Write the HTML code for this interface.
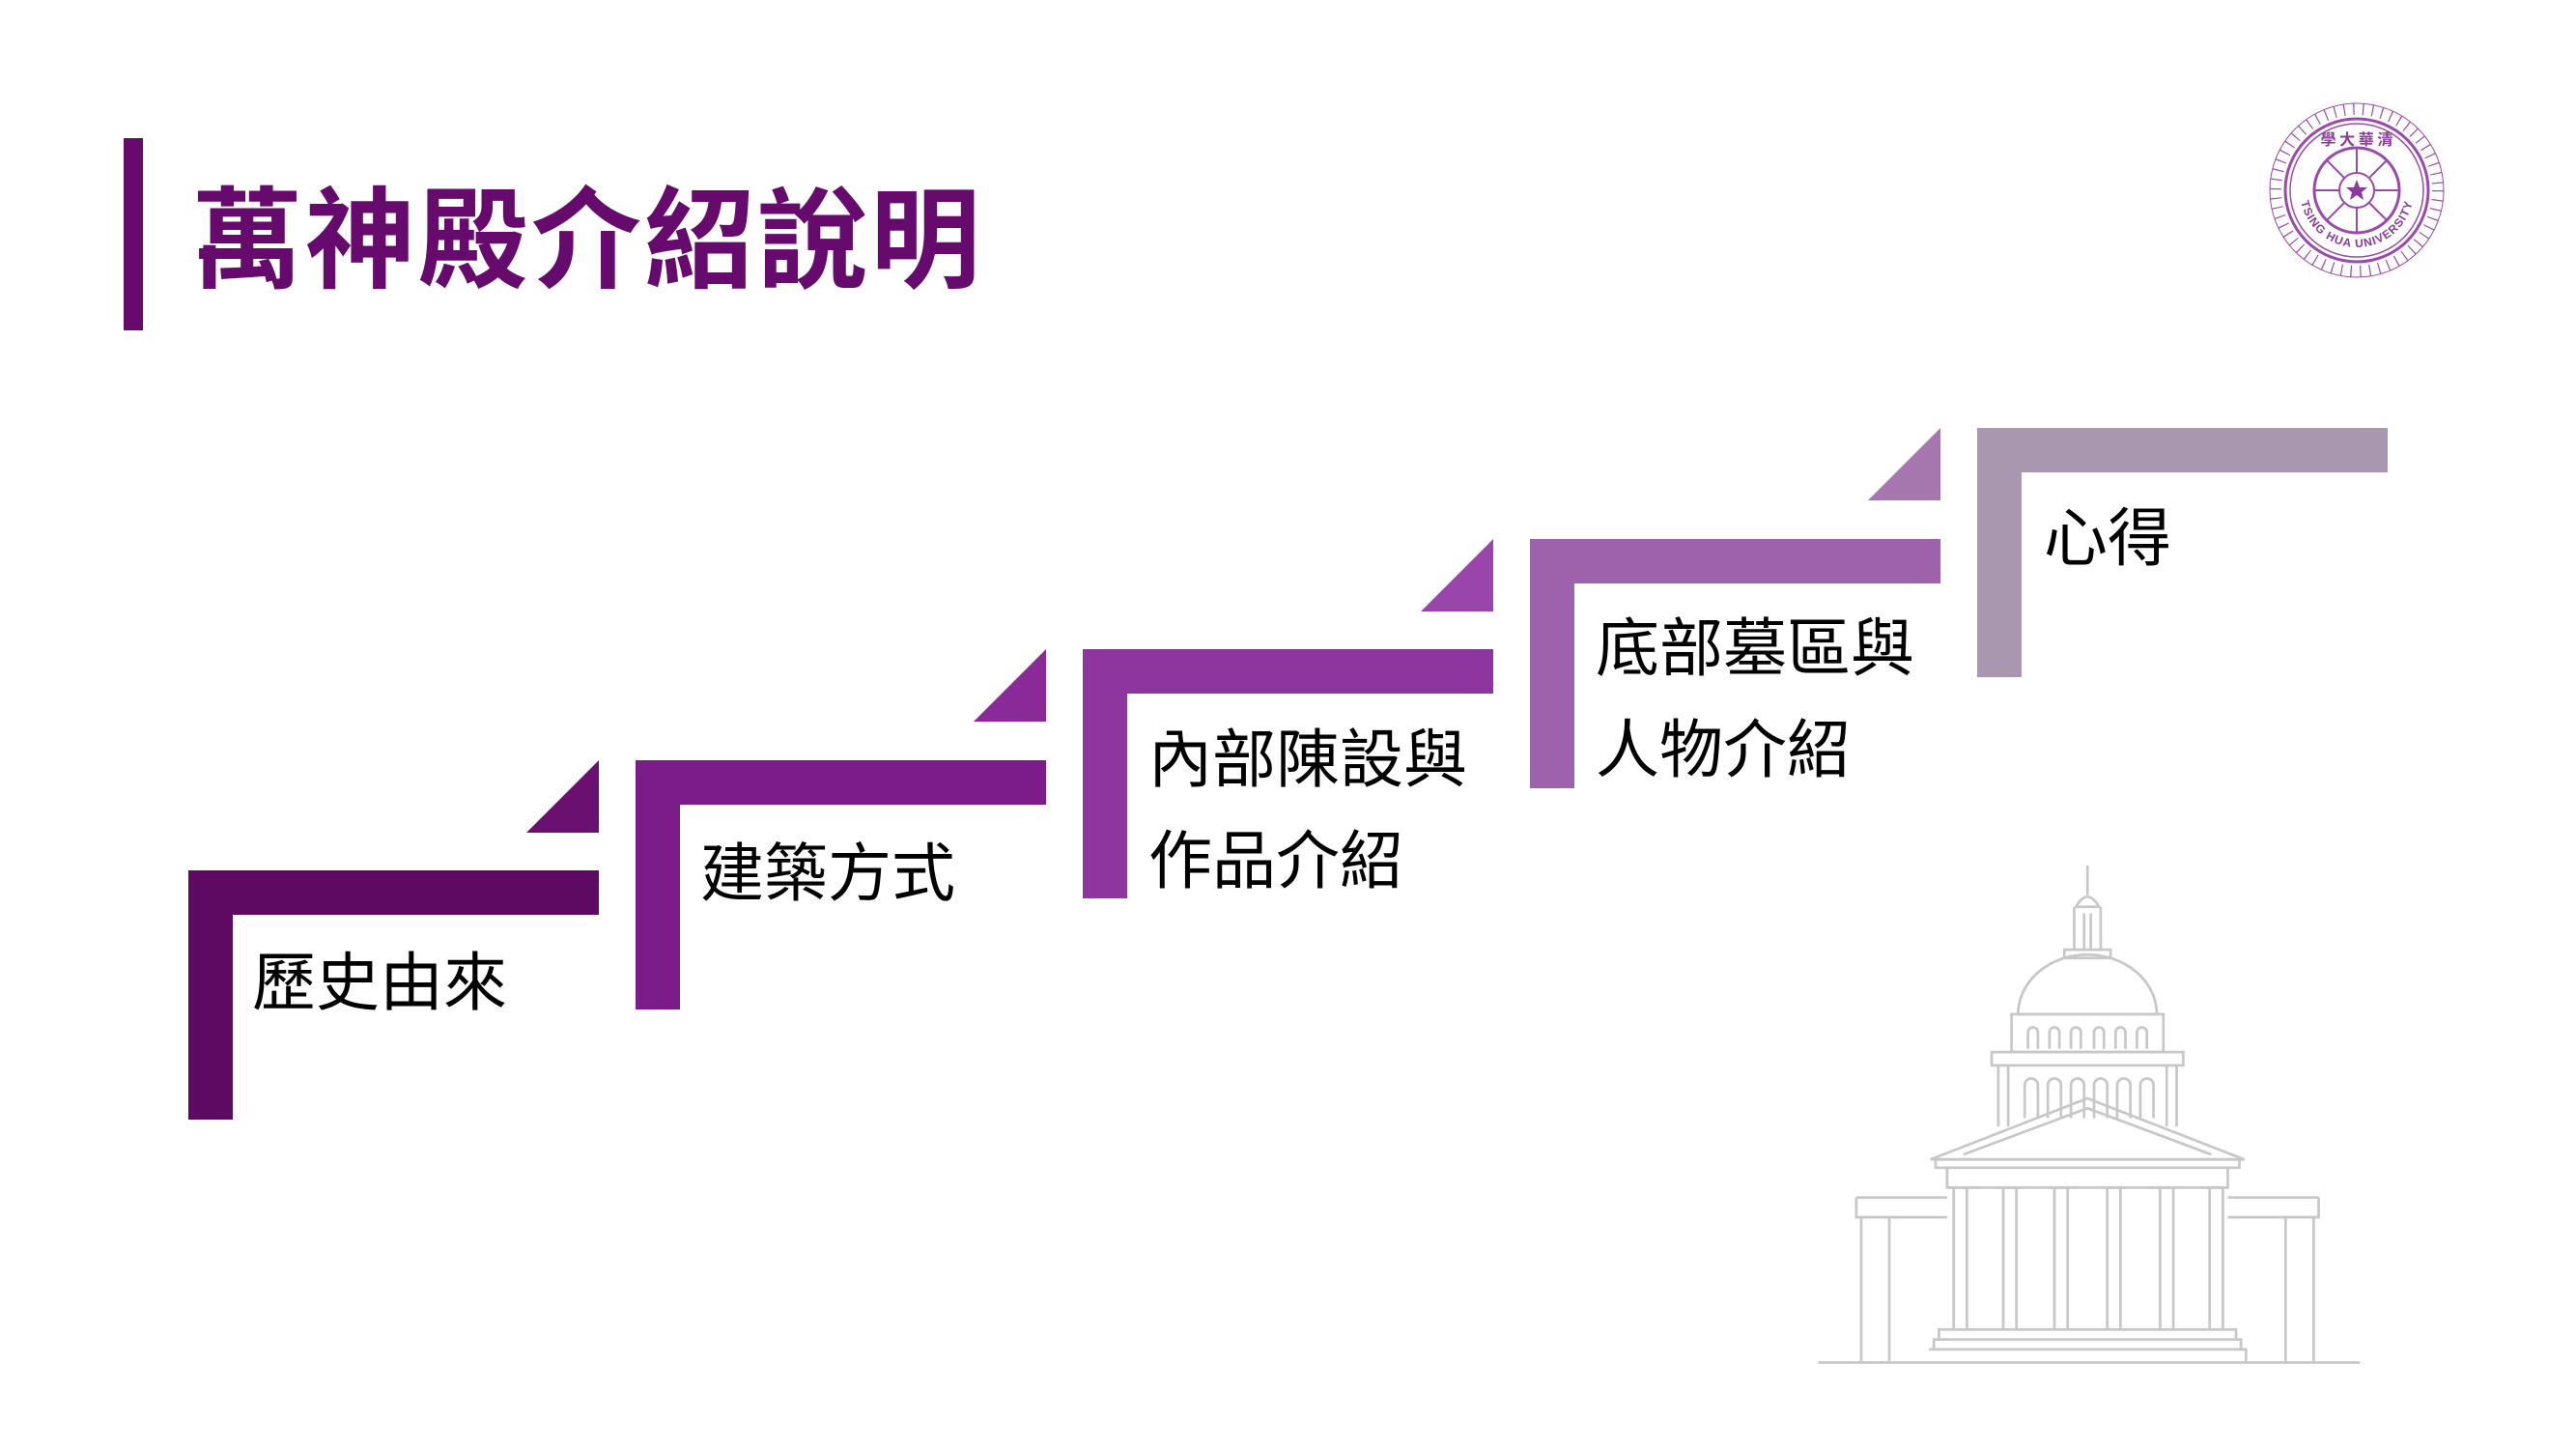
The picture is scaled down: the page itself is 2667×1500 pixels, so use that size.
<!DOCTYPE html>
<html><head><meta charset="utf-8"><style>
html,body{margin:0;padding:0;background:#fff}
body{width:2667px;height:1500px;position:relative;overflow:hidden;font-family:"Liberation Sans","Noto Sans CJK TC",sans-serif}
.t{position:absolute;font-size:66px;line-height:105px;color:#000;white-space:nowrap}
.title{position:absolute;left:199px;top:176px;font-size:114px;line-height:150px;font-weight:bold;color:#660a6e;letter-spacing:3px;white-space:nowrap}
</style></head><body>
<div style="position:absolute;left:128px;top:143px;width:20px;height:199px;background:#660a6e"></div>
<div class="title">萬神殿介紹說明</div>
<svg width="2667" height="1500" style="position:absolute;left:0;top:0">
<defs><path id="arc" d="M2381 197A59 59 0 0 0 2499 197"/></defs>
<g>
<path d="M195 901H620V947H241V1159H195Z" fill="#5e0a62"/>
<polygon points="620,787 620,862 545,862" fill="#6a1070"/>
<path d="M658 787H1083V833H704V1045H658Z" fill="#7b1c8a"/>
<polygon points="1083,672 1083,747 1008,747" fill="#8a2a98"/>
<path d="M1121 672H1546V718H1167V930H1121Z" fill="#8e35a0"/>
<polygon points="1546,558 1546,633 1471,633" fill="#9a45ab"/>
<path d="M1584 558H2009V604H1630V816H1584Z" fill="#9e62ad"/>
<polygon points="2009,443 2009,518 1934,518" fill="#a577ae"/>
<path d="M2047 443H2472V489H2093V701H2047Z" fill="#a897ae"/>
</g>
<g fill="none" stroke="#9a4aaa">
<circle cx="2440" cy="197" r="84" stroke-width="12" stroke-dasharray="1.2 8.6"/>
<circle cx="2440" cy="197" r="90" stroke-width="1"/>
<circle cx="2440" cy="197" r="74" stroke-width="3"/>
<circle cx="2440" cy="197" r="69" stroke-width="1.5"/>
<circle cx="2440" cy="197" r="44" stroke-width="3"/>
<circle cx="2440" cy="197" r="18" stroke-width="2"/>
<path d="M2440 153V179M2440 215V241M2396 197H2422M2458 197H2484M2409 166L2427 184M2453 210L2471 228M2471 166L2453 184M2427 210L2409 228" stroke-width="2"/>
</g>
<polygon points="2440,186 2443,194 2451,194 2445,199 2447,207 2440,202 2433,207 2435,199 2429,194 2437,194" fill="#8a3a9a"/>
<text font-size="12" fill="#8a3a9a" font-family="Liberation Sans" font-weight="bold" letter-spacing="1"><textPath href="#arc" startOffset="50%" text-anchor="middle">TSING HUA UNIVERSITY</textPath></text>
<text x="2440" y="150" font-size="16" fill="#8a3a9a" text-anchor="middle" font-family="Noto Sans CJK TC" font-weight="bold">學 大 華 清</text>
<g transform="translate(-10,-5) scale(1.7096)" fill="none" stroke="#c8c8c8" stroke-width="1.6">
<path d="M1107 828H1435"/>
<path d="M1270 527V545"/>
<path d="M1263 552Q1270 540 1277 552Z"/>
<path d="M1262 552V578M1278 552V578M1268 556V578M1272 556V578M1256 578H1284V583H1256Z"/>
<path d="M1228 617A42 36 0 0 1 1312 617Z"/>
<path d="M1224 617H1316V640H1224Z"/>
<path d="M1234 638V628A3 3 0 0 1 1240 628V638M1247 638V628A3 3 0 0 1 1253 628V638M1260 638V628A3 3 0 0 1 1266 628V638M1274 638V628A3 3 0 0 1 1280 628V638M1287 638V628A3 3 0 0 1 1293 628V638M1300 638V628A3 3 0 0 1 1306 628V638"/>
<path d="M1212 640H1328V648H1212Z"/>
<path d="M1216 648V685M1324 648V685M1222 648V685M1318 648V685"/>
<path d="M1232 680V660A3 3 0 0 1 1240 660V680M1246 680V660A3 3 0 0 1 1254 660V680M1260 680V660A3 3 0 0 1 1268 660V680M1274 680V660A3 3 0 0 1 1282 660V680M1288 680V660A3 3 0 0 1 1296 660V680M1302 680V660A3 3 0 0 1 1310 660V680"/>
<path d="M1175 705L1270 668L1365 705Z M1195 702L1270 674L1345 702"/>
<path d="M1178 705H1362V710H1178Z"/>
<path d="M1185 710V722H1355V710"/>
<path d="M1189 722V808M1197 722V808M1219 722V808M1227 722V808M1250 722V808M1258 722V808M1282 722V808M1290 722V808M1314 722V808M1322 722V808M1344 722V808M1352 722V808"/>
<path d="M1186 722H1200M1216 722H1230M1247 722H1261M1279 722H1293M1311 722H1325M1341 722H1355"/>
<path d="M1130 728H1185M1355 728H1410M1130 728V740H1185M1355 740H1410V728"/>
<path d="M1133 740V828M1150 740V828M1130 740H1153M1390 740V828M1407 740V828M1387 740H1410"/>
<path d="M1180 808H1360V814H1180ZM1177 814H1363V820H1177ZM1174 820H1366V828"/>
</g>
</svg>
<div class="t" style="left:261px;top:965px">歷史由來</div>
<div class="t" style="left:725px;top:852px">建築方式</div>
<div class="t" style="left:1189px;top:734px">內部陳設與<br>作品介紹</div>
<div class="t" style="left:1652px;top:619px">底部墓區與<br>人物介紹</div>
<div class="t" style="left:2116px;top:505px">心得</div>
</body></html>
